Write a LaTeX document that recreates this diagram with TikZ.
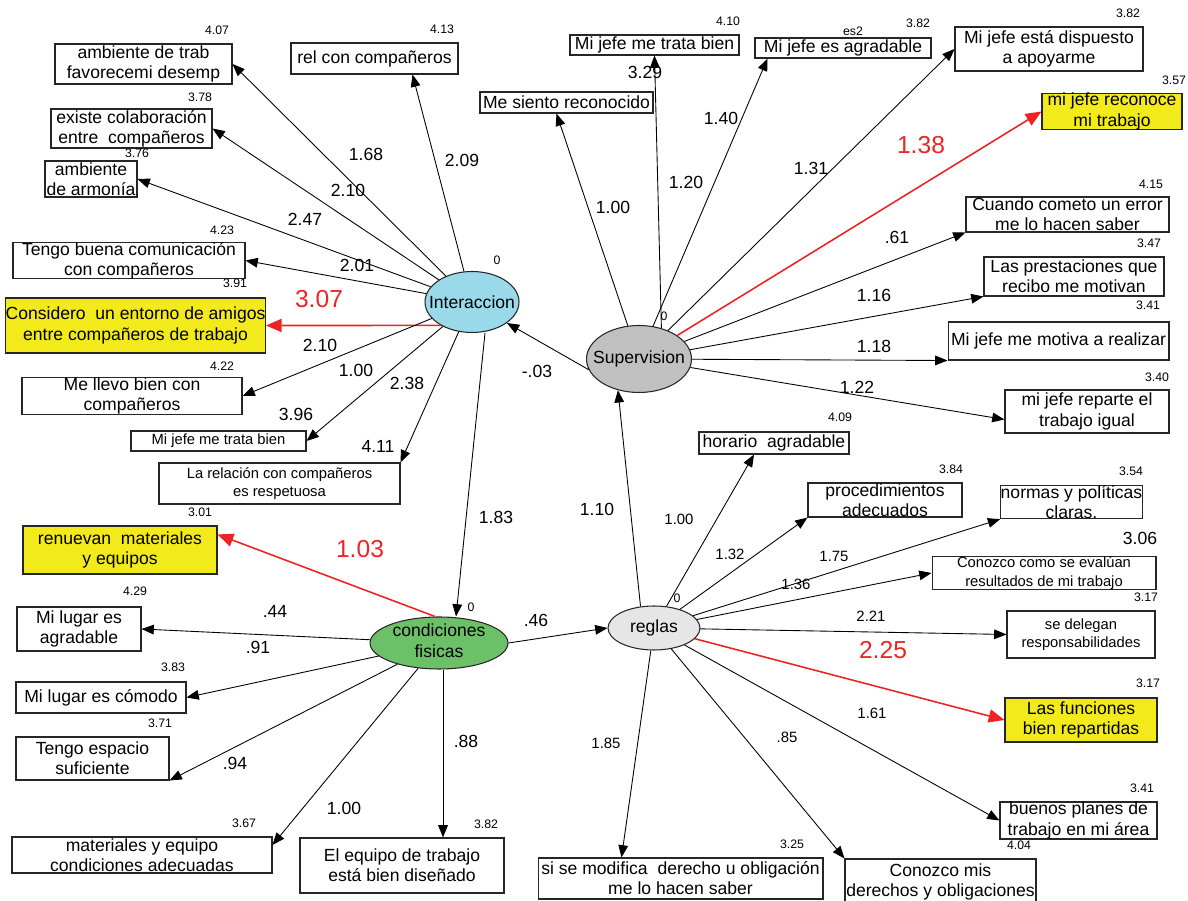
\documentclass[tikz,border=0pt]{standalone}
\usepackage{fontspec}
\setmainfont{Liberation Sans}
\usepackage{xcolor}
\usetikzlibrary{shapes.geometric,arrows.meta,calc}

\definecolor{intblue}{RGB}{153,217,234}
\definecolor{supgray}{RGB}{192,192,192}
\definecolor{cfgreen}{RGB}{108,192,104}
\definecolor{reggray}{RGB}{230,230,230}
\definecolor{amosyellow}{RGB}{242,234,26}
\definecolor{amosred}{RGB}{238,36,36}

\begin{document}
\begin{tikzpicture}[x=0.02cm, y=-0.02cm,
    obs/.style={draw=black!85, line width=0.6pt, inner sep=0pt, align=center, font=\fontsize{10}{11.5}\selectfont},
    sobs/.style={obs, font=\fontsize{8.4}{10.4}\selectfont},
    hl/.style={obs, fill=amosyellow},
    boxsize/.style 2 args={minimum width=#1cm, minimum height=#2cm},
    lat/.style={ellipse, draw=black!85, line width=0.6pt, inner sep=0pt, font=\fontsize{10}{11.5}\selectfont},
    arr/.style={-{Triangle[length=7pt,width=5.5pt]}, line width=0.5pt},
    redarr/.style={-{Triangle[length=9pt,width=7.5pt]}, line width=0.9pt, color=amosred},
    mean/.style={font=\fontsize{7}{8}\selectfont, inner sep=0pt},
    coef/.style={font=\fontsize{10}{12}\selectfont, inner sep=0pt},
    scoef/.style={font=\fontsize{8.5}{10}\selectfont, inner sep=0pt},
    rcoef/.style={font=\fontsize{14}{16}\selectfont, text=amosred, inner sep=0pt}]
    \useasboundingbox (0,0) rectangle (1188,901);

    % Latent variables
    \node[lat, fill=intblue, minimum width=1.88cm, minimum height=1.22cm] (int) at (472,302) {\makebox[0pt]{Interaccion}};
    \node[lat, fill=supgray, minimum width=2.10cm, minimum height=1.34cm] (sup) at (639,359) {\makebox[0pt]{Supervision}};
    \node[lat, fill=cfgreen, inner ysep=-2pt, minimum width=2.76cm, minimum height=1.04cm] (cf) at (439,643) {\makebox[0pt]{\begin{tabular}{@{}c@{}}condiciones\\fisicas\end{tabular}}};
    \node[lat, fill=reggray, minimum width=1.84cm, minimum height=0.88cm] (reg) at (654,628) {\makebox[0pt]{reglas}};
    \node[mean] (z1) at (497,260) {0};
    \node[mean] (z2) at (664,316) {0};
    \node[mean] (z3) at (471,607) {0};
    \node[mean] (z4) at (677,598) {0};

    % Interaccion indicators
    \node[obs, boxsize={3.54}{0.80}] (b1) at (143.5,64) {ambiente de trab\\ favorecemi desemp};
    \node[obs, boxsize={3.34}{0.62}] (b2) at (374.5,58.5) {rel con compañeros};
    \node[obs, boxsize={3.22}{0.78}] (b3) at (131.5,128.5) {existe colaboración\\entre\ \ compañeros};
    \node[obs, boxsize={1.84}{0.72}] (b4) at (91,179) {ambiente\\de armonía};
    \node[obs, boxsize={4.64}{0.66}] (b5) at (129,260.5) {Tengo buena comunicación\\con compañeros};
    \node[hl, boxsize={5.14}{1.10}] (b6) at (135.5,325.5) {Considero\ \ un entorno de amigos\\entre compañeros de trabajo};
    \node[obs, boxsize={4.40}{0.68}] (b7) at (132,396) {Me llevo bien con\\compañeros};
    \node[sobs, boxsize={3.50}{0.40}] (b8) at (218.5,441) {Mi jefe me trata bien};
    \node[sobs, boxsize={4.82}{0.82}] (b9) at (279.5,483.5) {La relación con compañeros\\es respetuosa};

    % Supervision indicators
    \node[obs, boxsize={3.46}{0.42}] (b10) at (566.5,102.5) {Me siento reconocido};
    \node[obs, boxsize={3.38}{0.40}] (b11) at (654.5,45) {Mi jefe me trata bien};
    \node[obs, boxsize={3.52}{0.40}] (b12) at (843,48) {Mi jefe es agradable};
    \node[obs, boxsize={3.76}{0.88}] (b13) at (1049,49) {Mi jefe está dispuesto\\a apoyarme};
    \node[hl, boxsize={2.80}{0.66}] (b14) at (1112,111.5) {mi jefe reconoce\\mi trabajo};
    \node[obs, boxsize={4.06}{0.70}] (b15) at (1067.5,214.5) {Cuando cometo un error\\me lo hacen saber};
    \node[obs, boxsize={3.60}{0.78}] (b16) at (1074,276.5) {Las prestaciones que\\recibo me motivan};
    \node[obs, boxsize={4.42}{0.76}] (b17) at (1058.5,341) {Mi jefe me motiva a realizar};
    \node[obs, boxsize={3.28}{0.86}] (b18) at (1087,411.5) {mi jefe reparte el\\trabajo igual};

    % reglas indicators
    \node[obs, boxsize={3.00}{0.44}] (b19) at (774,443) {horario\ \ agradable};
    \node[obs, boxsize={3.08}{0.68}] (b20) at (885,500) {procedimientos\\adecuados};
    \node[obs, boxsize={2.62}{0.64}] (b21) at (1071.5,502) {normas y políticas\\claras.};
    \node[sobs, boxsize={4.48}{0.60}] (b22) at (1044,573) {Conozco como se evalúan\\resultados de mi trabajo};
    \node[sobs, boxsize={2.96}{0.94}] (b23) at (1081,634.5) {se delegan\\responsabilidades};
    \node[hl, boxsize={3.04}{0.88}] (b24) at (1081,720) {Las funciones\\bien repartidas};
    \node[obs, boxsize={3.14}{0.74}] (b25) at (1078.5,820.5) {buenos planes de\\trabajo en mi área};
    \node[obs, boxsize={3.82}{0.92}] (b26) at (940.5,882) {Conozco mis\\derechos y obligaciones};
    \node[obs, boxsize={5.70}{0.82}] (b27) at (680.5,878.5) {si se modifica\ \ derecho u obligación\\me lo hacen saber};

    % condiciones fisicas indicators
    \node[hl, boxsize={3.88}{0.96}] (b28) at (120,550) {renuevan\ \ materiales\\y equipos};
    \node[obs, boxsize={2.48}{0.88}] (b29) at (79,629) {Mi lugar es\\agradable};
    \node[obs, boxsize={3.40}{0.62}] (b30) at (101,697.5) {Mi lugar es cómodo};
    \node[obs, boxsize={3.06}{0.86}] (b31) at (92.5,758.5) {Tengo espacio\\suficiente};
    \node[obs, boxsize={5.20}{0.72}] (b32) at (142,855) {materiales y equipo\\condiciones adecuadas};
    \node[obs, boxsize={4.08}{1.10}] (b33) at (402,865.5) {El equipo de trabajo\\está bien diseñado};

    % Means
    \node[mean] (m1) at (217,30) {4.07};
    \node[mean] (m2) at (442,29) {4.13};
    \node[mean] (m3) at (200,97) {3.78};
    \node[mean] (m4) at (137,153) {3.76};
    \node[mean] (m5) at (222,230) {4.23};
    \node[mean] (m6) at (235,283) {3.91};
    \node[mean] (m7) at (222,366) {4.22};
    \node[coef] (m8) at (296,414) {3.96};
    \node[coef] (m9) at (378,446) {4.11};
    \node[coef] (m10) at (645,72) {3.29};
    \node[mean] (m11) at (728,21) {4.10};
    \node[mean] (es2) at (853,31) {es2};
    \node[mean] (m12) at (918,23) {3.82};
    \node[mean] (m13) at (1128,13) {3.82};
    \node[mean] (m14) at (1174,80) {3.57};
    \node[mean] (m15) at (1151,184) {4.15};
    \node[mean] (m16) at (1149,243) {3.47};
    \node[mean] (m17) at (1148,305) {3.41};
    \node[mean] (m18) at (1157,377) {3.40};
    \node[mean] (m19) at (840,417) {4.09};
    \node[mean] (m20) at (951,469) {3.84};
    \node[mean] (m21) at (1131,471) {3.54};
    \node[coef] (m22) at (1140,538) {3.06};
    \node[mean] (m23) at (1146,597) {3.17};
    \node[mean] (m24) at (1148,683) {3.17};
    \node[mean] (m25) at (1142,788) {3.41};
    \node[mean] (m26) at (1019,845) {4.04};
    \node[mean] (m27) at (792,844) {3.25};
    \node[mean] (m28) at (200,512) {3.01};
    \node[mean] (m29) at (135,591) {4.29};
    \node[mean] (m30) at (173,667) {3.83};
    \node[mean] (m31) at (160,723) {3.71};
    \node[mean] (m32) at (244,823) {3.67};
    \node[mean] (m33) at (486,824) {3.82};

    % Arrows Interaccion
    \draw[arr] (int) -- (b1.east);
    \draw[arr] (int) -- ($(b2.south)+(38,0)$);
    \draw[arr] (int) -- (b3.east);
    \draw[arr] (int) -- (b4.east);
    \draw[arr] (int) -- (b5.east);
    \draw[redarr] (int.217) -- (b6.east);
    \draw[arr] (int) -- (b7.east);
    \draw[arr] (int) -- (b8.east);
    \draw[arr] (int) -- (b9.north east);

    % Arrows Supervision
    \draw[arr] (sup) -- ($(b10.south)+(-10,0)$);
    \draw[arr] (sup.54) -- (b11.south);
    \draw[arr] (sup) -- ($(b12.south west)+(13,0)$);
    \draw[arr] (sup) -- (b13.west);
    \draw[redarr] (sup) -- (b14.west);
    \draw[arr] (sup) -- (b15.south west);
    \draw[arr] (sup) -- (b16.south west);
    \draw[arr] (sup) -- (b17.south west);
    \draw[arr] (sup) -- ($(b18.west)+(0,8)$);

    % Arrows reglas
    \draw[arr] (reg) -- ($(b19.south)+(-20,0)$);
    \draw[arr] (reg) -- (b20.south west);
    \draw[arr] (reg) -- (b21.south west);
    \draw[arr] (reg) -- (b22.west);
    \draw[arr] (reg) -- (b23.west);
    \draw[redarr] (reg) -- (b24.west);
    \draw[arr] (reg) -- (b25.west);
    \draw[arr] (reg) -- (b26.north west);
    \draw[arr] (reg) -- ($(b27.north)+(-59,0)$);

    % Arrows condiciones fisicas
    \draw[redarr] ($(cf.north)+(-4,0)$) -- ($(b28.north east)+(0,9)$);
    \draw[arr] (cf) -- (b29.east);
    \draw[arr] (cf) -- (b30.east);
    \draw[arr] (cf) -- (b31.south east);
    \draw[arr] (cf) -- ($(b32.east)+(0,-10)$);
    \draw[arr] ($(cf.south)+(4,0)$) -- ($(b33.north)+(41,0)$);

    % Structural paths
    \draw[arr] ($(int.south)+(13,0)$) -- ($(cf.north)+(17,0)$);
    \draw[arr] (sup.192) -- (int.-31);
    \draw[arr] (reg.122) -- (sup.236);
    \draw[arr] (cf.east) -- (reg.west);

    % Coefficients
    \node[coef] (c1) at (366,154) {1.68};
    \node[coef] (c2) at (462,160) {2.09};
    \node[coef] (c3) at (348,190) {2.10};
    \node[coef] (c4) at (305,219) {2.47};
    \node[coef] (c5) at (357,265) {2.01};
    \node[rcoef] (c6) at (319,299) {3.07};
    \node[coef] (c7) at (320,345) {2.10};
    \node[coef] (c8) at (356,370) {1.00};
    \node[coef] (c9) at (407,383) {2.38};
    \node[coef] (c10) at (537,371) {-.03};
    \node[coef] (c11) at (496,517) {1.83};
    \node[coef] (c12) at (597,509) {1.10};
    \node[coef] (c13) at (536,620) {.46};
    \node[rcoef] (c14) at (360,549) {1.03};
    \node[coef] (c15) at (275,611) {.44};
    \node[coef] (c16) at (258,647) {.91};
    \node[coef] (c17) at (235,763) {.94};
    \node[coef] (c18) at (344,808) {1.00};
    \node[coef] (c19) at (466,741) {.88};
    \node[coef] (c20) at (613,207) {1.00};
    \node[coef] (c21) at (686,182) {1.20};
    \node[coef] (c22) at (721,118) {1.40};
    \node[coef] (c23) at (811,168) {1.31};
    \node[rcoef] (c24) at (921,145) {1.38};
    \node[coef] (c25) at (897,237) {.61};
    \node[coef] (c26) at (874,295) {1.16};
    \node[coef] (c27) at (874,346) {1.18};
    \node[coef] (c28) at (857,387) {1.22};
    \node[scoef] (c29) at (679,519) {1.00};
    \node[scoef] (c30) at (730,554) {1.32};
    \node[scoef] (c31) at (834,556) {1.75};
    \node[scoef] (c32) at (796,584) {1.36};
    \node[scoef] (c33) at (871,616) {2.21};
    \node[rcoef] (c34) at (883,650) {2.25};
    \node[scoef] (c35) at (872,713) {1.61};
    \node[scoef] (c36) at (787,737) {.85};
    \node[scoef] (c37) at (606,743) {1.85};
\end{tikzpicture}
\end{document}
